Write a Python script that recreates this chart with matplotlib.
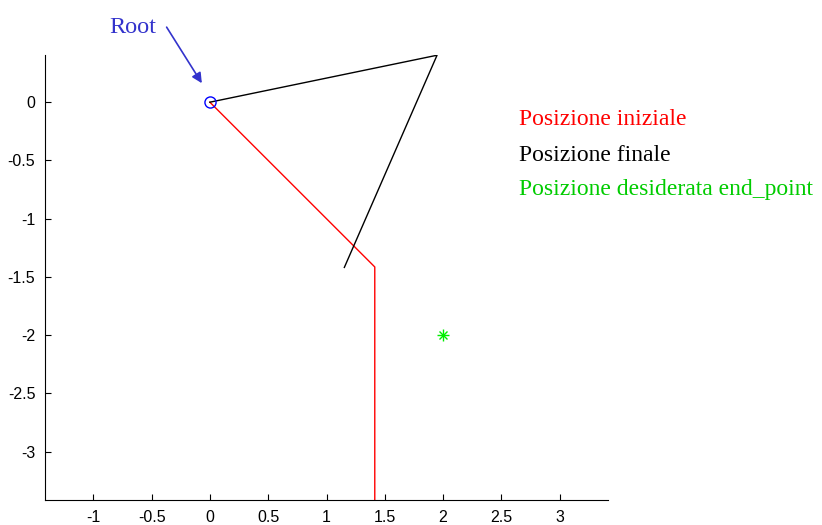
import matplotlib
matplotlib.use("Agg")
import matplotlib.pyplot as plt

# Data
init_x = [0, 1.414, 1.414]
init_y = [0, -1.414, -3.414]
final_x = [0, 1.948, 1.153]
final_y = [0, 0.403, -1.418]
target_x = [2.0]
target_y = [-2.0]
root_x = [0.0]
root_y = [0.0]
xticks = [-1, -0.5, 0, 0.5, 1, 1.5, 2, 2.5, 3]
yticks = [0, -0.5, -1, -1.5, -2, -2.5, -3]
labels = ["Posizione iniziale", "Posizione finale", "Posizione desiderata end_point"]
label_colors = ["#ff0000", "#000000", "#00cc00"]

fig = plt.figure(figsize=(8.22, 5.25), dpi=100)
ax = fig.add_axes([45/822, 25/525, 563/822, 445/525])

ax.plot(init_x, init_y, color="#ff0000", lw=1)
ax.plot(final_x, final_y, color="#000000", lw=1)
ax.plot(target_x, target_y, marker="+", color="#00ee00", ms=8, mew=1, ls="none")
ax.plot(target_x, target_y, marker="x", color="#00ee00", ms=6, mew=1, ls="none")
ax.plot(root_x, root_y, marker="o", mfc="none", mec="#0000ff", ms=8, mew=1, ls="none", clip_on=False)

ax.set_xlim(-1.414, 3.414)
ax.set_ylim(-3.414, 0.405)
ax.set_xticks(xticks)
ax.set_xticklabels([f"{t:g}" for t in xticks])
ax.set_yticks(yticks)
ax.set_yticklabels([f"{t:g}" for t in yticks])
ax.tick_params(direction="in", length=4, width=0.8, labelsize=11.5, pad=7)
for lab in ax.get_xticklabels() + ax.get_yticklabels():
    lab.set_fontfamily("Liberation Sans")
ax.spines["top"].set_visible(False)
ax.spines["right"].set_visible(False)

# Root annotation
ax.annotate("", xy=(-0.069, 0.163), xytext=(-0.371, 0.644),
            arrowprops=dict(arrowstyle="-|>", color="#3333cc", lw=1.2, mutation_scale=15,
                            shrinkA=0, shrinkB=0),
            annotation_clip=False)
ax.text(-0.664, 0.645, "Root", color="#3333cc", fontsize=17.5, family="Liberation Serif",
        ha="center", va="center", clip_on=False)

ys = [-0.152, -0.461, -0.750]
for lab, c, yy in zip(labels, label_colors, ys):
    ax.text(2.647, yy, lab, color=c, fontsize=17, family="Liberation Serif",
            ha="left", va="center", clip_on=False)

fig.savefig("out.png", dpi=100)
